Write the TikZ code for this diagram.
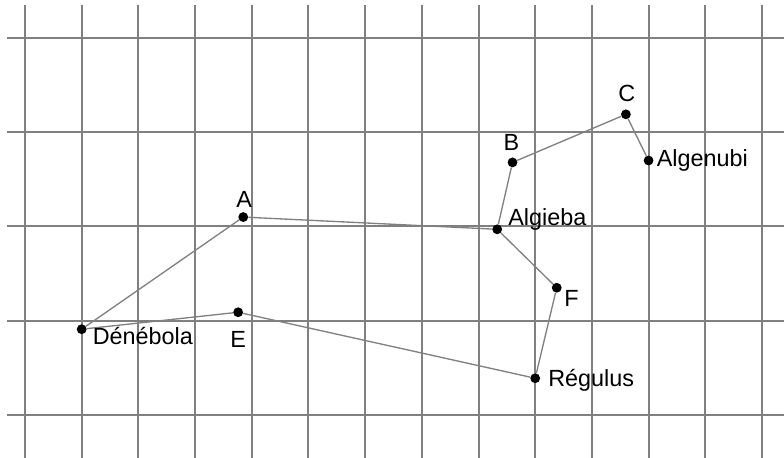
\documentclass[tikz,border=0pt]{standalone}
\usepackage{fontspec}
\setmainfont{Liberation Sans}
\begin{document}
\begin{tikzpicture}[x=1.5cm,y=2.494cm,
  punt/.style={circle,fill=black,inner sep=0pt,minimum size=7.4pt},
  etiq/.style={inner sep=0pt,font=\fontsize{17.6}{20}\selectfont},
  branca/.style={draw=gray,line width=1pt}]
  % Constel·lació del Lleó sobre la quadrícula
  \useasboundingbox (-0.441,-0.456) rectangle (13.389,4.403);
  \foreach \i in {0,...,13} \draw[gray,line width=1.5pt] (\i,-0.456) -- (\i,4.35);
  \foreach \j in {0,...,4} \draw[gray,line width=1.5pt] (-0.32,\j) -- (13.389,\j);
  \node[punt] (den) at (1,0.91) {};
  \node[punt] (A) at (3.85,2.1) {};
  \node[punt] (alg) at (8.33,1.97) {};
  \node[punt] (B) at (8.6,2.68) {};
  \node[punt] (C) at (10.6,3.19) {};
  \node[punt] (nub) at (11,2.7) {};
  \node[punt] (F) at (9.38,1.35) {};
  \node[punt] (reg) at (9,0.39) {};
  \node[punt] (E) at (3.76,1.09) {};
  \draw[branca] (den) -- (A) -- (alg) -- (B) -- (C) -- (nub);
  \draw[branca] (alg) -- (F) -- (reg) -- (E) -- (den);
  \node[etiq,anchor=base] (tA) at ([shift={(0.75pt,7pt)}]A.center) {A};
  \node[etiq,anchor=base] (tB) at ([shift={(-0.75pt,8.6pt)}]B.center) {B};
  \node[etiq,anchor=base] (tC) at ([shift={(0.75pt,10pt)}]C.center) {C};
  \node[etiq,anchor=base] (tE) at ([shift={(0pt,-26.2pt)}]E.center) {E};
  \node[etiq,anchor=base] (tF) at ([shift={(11.2pt,-14.2pt)}]F.center) {F};
  \node[etiq,anchor=base west] (tnub) at ([shift={(6pt,-4.5pt)}]nub.center) {Algenubi};
  \node[etiq,anchor=base west] (talg) at ([shift={(8.2pt,3pt)}]alg.center) {Algieba};
  \node[etiq,anchor=base west] (tden) at ([shift={(8.2pt,-11.2pt)}]den.center) {Dénébola};
  \node[etiq,anchor=base west] (treg) at ([shift={(9.7pt,-6pt)}]reg.center) {Régulus};
\end{tikzpicture}
\end{document}
